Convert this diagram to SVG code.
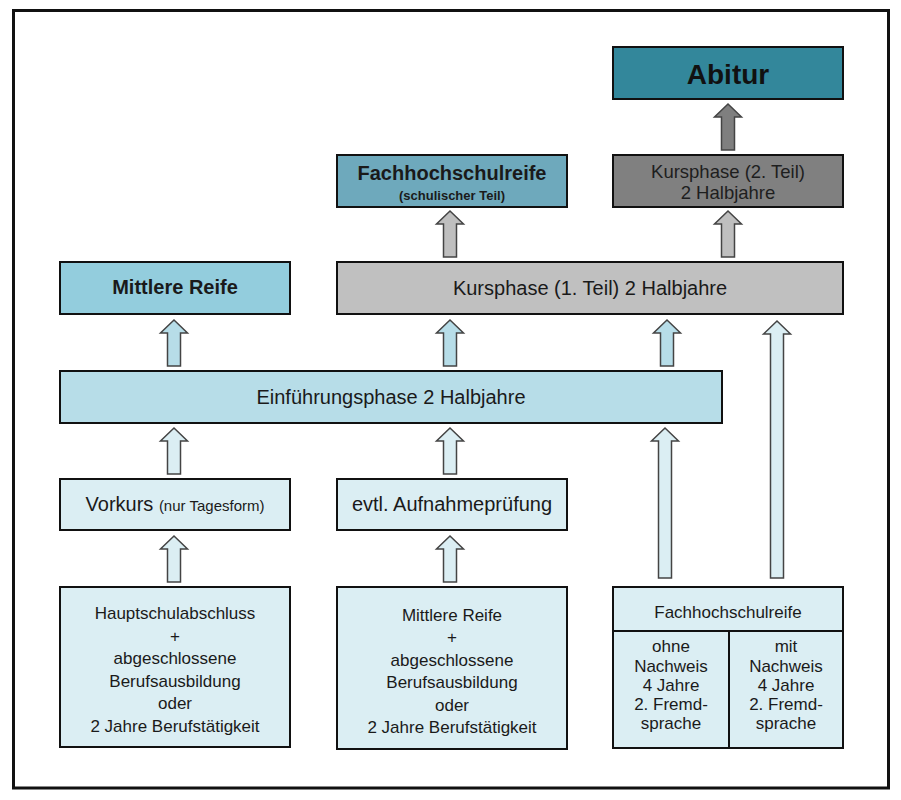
<svg xmlns="http://www.w3.org/2000/svg" width="901" height="800" viewBox="0 0 901 800">
<style>
  text { font-family: "Liberation Sans", Arial, sans-serif; fill: #1a1a1a; text-anchor: middle; }
  .box { stroke: #111; stroke-width: 2; }
  .arr { stroke: #444; stroke-width: 1.5; stroke-linejoin: miter; }
  .t20 { font-size: 20px; }
  .b20 { font-size: 20px; font-weight: bold; }
  .t17 { font-size: 17px; }
</style>
<defs>
  <path id="a46" d="M0,0 L13.5,13 L6.5,13 L6.5,46 L-6.5,46 L-6.5,13 L-13.5,13 Z"/>
</defs>
<rect x="0" y="0" width="901" height="800" fill="#ffffff"/>
<rect x="13.5" y="10.5" width="875" height="777.5" fill="#ffffff" stroke="#111" stroke-width="3"/>

<g id="abitur">
  <rect class="box" x="613" y="47" width="230" height="52" fill="#33879b"/>
  <text x="728" y="84" style="font-size:28px;font-weight:bold;fill:#111">Abitur</text>
</g>
<g id="kursphase2">
  <rect class="box" x="613" y="155" width="230" height="52" fill="#808080"/>
  <text x="728" y="177.5" style="font-size:18.5px;fill:#1e1e1e">Kursphase (2. Teil)</text>
  <text x="728" y="198.5" style="font-size:18.5px;fill:#1e1e1e">2 Halbjahre</text>
</g>
<g id="fachhochschulreife-schulisch">
  <rect class="box" x="337" y="155" width="230" height="52" fill="#6ea9bc"/>
  <text class="b20" x="452" y="180">Fachhochschulreife</text>
  <text x="452" y="200" style="font-size:13px;font-weight:bold">(schulischer Teil)</text>
</g>
<g id="mittlere-reife">
  <rect class="box" x="60" y="262" width="230" height="52" fill="#93cddd"/>
  <text class="b20" x="175" y="294">Mittlere Reife</text>
</g>
<g id="kursphase1">
  <rect class="box" x="337" y="262" width="506" height="52" fill="#c0c0c0"/>
  <text class="t20" x="590" y="295">Kursphase (1. Teil) 2 Halbjahre</text>
</g>
<g id="einfuehrungsphase">
  <rect class="box" x="60" y="371" width="662" height="52" fill="#b7dde8"/>
  <text class="t20" x="391" y="404">Einführungsphase 2 Halbjahre</text>
</g>
<g id="vorkurs">
  <rect class="box" x="60" y="479" width="230" height="51" fill="#dbeef3"/>
  <text class="t20" x="175" y="511">Vorkurs <tspan style="font-size:15px">(nur Tagesform)</tspan></text>
</g>
<g id="aufnahmepruefung">
  <rect class="box" x="337" y="479" width="230" height="51" fill="#dbeef3"/>
  <text class="t20" x="452" y="511">evtl. Aufnahmeprüfung</text>
</g>
<g id="hauptschulabschluss">
  <rect class="box" x="60" y="587" width="230" height="160" fill="#dbeef3"/>
  <text class="t17" x="175" y="619">Hauptschulabschluss</text>
  <text class="t17" x="175" y="642">+</text>
  <text class="t17" x="175" y="664">abgeschlossene</text>
  <text class="t17" x="175" y="687">Berufsausbildung</text>
  <text class="t17" x="175" y="709">oder</text>
  <text class="t17" x="175" y="732">2 Jahre Berufstätigkeit</text>
</g>
<g id="mittlere-reife-zugang">
  <rect class="box" x="337" y="587" width="230" height="162" fill="#dbeef3"/>
  <text class="t17" x="452" y="621">Mittlere Reife</text>
  <text class="t17" x="452" y="643">+</text>
  <text class="t17" x="452" y="666">abgeschlossene</text>
  <text class="t17" x="452" y="688">Berufsausbildung</text>
  <text class="t17" x="452" y="711">oder</text>
  <text class="t17" x="452" y="733">2 Jahre Berufstätigkeit</text>
</g>
<g id="fachhochschulreife-zugang">
  <rect class="box" x="613" y="587" width="230" height="161" fill="#dbeef3"/>
  <line x1="613" y1="631" x2="843" y2="631" stroke="#111" stroke-width="2"/>
  <line x1="729" y1="631" x2="729" y2="748" stroke="#111" stroke-width="2"/>
  <text class="t17" x="728" y="618">Fachhochschulreife</text>
  <text class="t17" x="671" y="652">ohne</text>
  <text class="t17" x="671" y="672">Nachweis</text>
  <text class="t17" x="671" y="691">4 Jahre</text>
  <text class="t17" x="671" y="710">2. Fremd-</text>
  <text class="t17" x="671" y="729">sprache</text>
  <text class="t17" x="786" y="652">mit</text>
  <text class="t17" x="786" y="672">Nachweis</text>
  <text class="t17" x="786" y="691">4 Jahre</text>
  <text class="t17" x="786" y="710">2. Fremd-</text>
  <text class="t17" x="786" y="729">sprache</text>
</g>

<g id="connectors">
  <use href="#a46" class="arr" x="728" y="104" fill="#7f7f7f"/>
  <use href="#a46" class="arr" x="450" y="211" fill="#bfbfbf"/>
  <use href="#a46" class="arr" x="728" y="211" fill="#bfbfbf"/>
  <use href="#a46" class="arr" x="174" y="320" fill="#b7dde8"/>
  <use href="#a46" class="arr" x="450" y="320" fill="#b7dde8"/>
  <use href="#a46" class="arr" x="667" y="320" fill="#b7dde8"/>
  <path class="arr" d="M777,321 L790.5,334 L783.5,334 L783.5,578 L770.5,578 L770.5,334 L763.5,334 Z" fill="#dbeef3"/>
  <path class="arr" d="M665,428 L678.5,441 L671.5,441 L671.5,578 L658.5,578 L658.5,441 L651.5,441 Z" fill="#dbeef3"/>
  <use href="#a46" class="arr" x="174" y="428" fill="#dbeef3"/>
  <use href="#a46" class="arr" x="450" y="428" fill="#dbeef3"/>
  <use href="#a46" class="arr" x="174" y="536" fill="#dbeef3"/>
  <use href="#a46" class="arr" x="450" y="536" fill="#dbeef3"/>
</g>
</svg>
